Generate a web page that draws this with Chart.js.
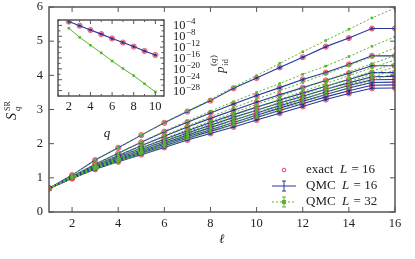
<!DOCTYPE html>
<html>
<head>
<meta charset="utf-8">
<script src="https://cdn.jsdelivr.net/npm/chart.js@4.4.0/dist/chart.umd.min.js"></script>
<style>
body { margin: 0; background: #fff; }
#caja { position: relative; width: 415px; height: 259px; }
#caja canvas { position: absolute; left: 0; top: 0; }
</style>
</head>
<body>
<div id="caja">
  <canvas id="principal" width="415" height="259"></canvas>
  <canvas id="recuadro" width="415" height="259"></canvas>
</div>
<script>
// subsistema l = 1..16
const ell = [1, 2, 3, 4, 5, 6, 7, 8, 9, 10, 11, 12, 13, 14, 15, 16];

// S_q^SR, L = 16 (exacto y QMC coinciden a ojo)
const sL16_q2 = [0.69, 1.08, 1.52, 1.88, 2.25, 2.61, 2.94, 3.26, 3.62, 3.92, 4.23, 4.53, 4.84, 5.09, 5.37, 5.37];
const sL16_q3 = [0.69, 1.04, 1.40, 1.72, 2.04, 2.35, 2.63, 2.90, 3.16, 3.41, 3.64, 3.88, 4.08, 4.32, 4.57, 4.57];
const sL16_q4 = [0.69, 1.03, 1.36, 1.65, 1.94, 2.22, 2.49, 2.74, 2.98, 3.21, 3.43, 3.64, 3.85, 4.06, 4.28, 4.28];
const sL16_q5 = [0.69, 1.02, 1.33, 1.61, 1.87, 2.13, 2.38, 2.62, 2.85, 3.07, 3.28, 3.48, 3.68, 3.88, 4.08, 4.08];
const sL16_q6 = [0.69, 1.01, 1.31, 1.57, 1.82, 2.07, 2.31, 2.54, 2.77, 2.98, 3.19, 3.39, 3.59, 3.78, 3.96, 3.97];
const sL16_q7 = [0.69, 1.00, 1.29, 1.54, 1.78, 2.02, 2.25, 2.47, 2.69, 2.90, 3.11, 3.31, 3.51, 3.70, 3.87, 3.88];
const sL16_q8 = [0.69, 0.99, 1.28, 1.52, 1.75, 1.98, 2.20, 2.41, 2.62, 2.83, 3.04, 3.24, 3.44, 3.63, 3.79, 3.80];
const sL16_q9 = [0.69, 0.99, 1.27, 1.50, 1.72, 1.94, 2.16, 2.36, 2.56, 2.77, 2.97, 3.17, 3.37, 3.55, 3.71, 3.72];
const sL16_q10 = [0.69, 0.98, 1.25, 1.47, 1.68, 1.89, 2.11, 2.30, 2.49, 2.69, 2.89, 3.09, 3.29, 3.47, 3.62, 3.63];

// S_q^SR, QMC L = 32
const sL32_q2 = [0.69, 1.08, 1.52, 1.88, 2.25, 2.62, 2.96, 3.29, 3.66, 3.99, 4.35, 4.69, 5.02, 5.35, 5.68, 5.97];
const sL32_q3 = [0.69, 1.04, 1.40, 1.72, 2.05, 2.37, 2.66, 2.95, 3.23, 3.50, 3.76, 4.03, 4.27, 4.55, 4.85, 5.13];
const sL32_q4 = [0.69, 1.03, 1.36, 1.65, 1.95, 2.24, 2.52, 2.79, 3.05, 3.30, 3.55, 3.79, 4.04, 4.29, 4.54, 4.80];
const sL32_q5 = [0.69, 1.02, 1.33, 1.61, 1.88, 2.15, 2.41, 2.66, 2.91, 3.15, 3.39, 3.62, 3.86, 4.10, 4.34, 4.58];
const sL32_q6 = [0.69, 1.01, 1.31, 1.57, 1.83, 2.09, 2.34, 2.58, 2.83, 3.06, 3.30, 3.53, 3.76, 3.99, 4.22, 4.45];
const sL32_q7 = [0.69, 1.00, 1.29, 1.54, 1.79, 2.04, 2.28, 2.51, 2.75, 2.98, 3.21, 3.44, 3.67, 3.90, 4.12, 4.35];
const sL32_q8 = [0.69, 0.99, 1.28, 1.52, 1.76, 2.00, 2.23, 2.45, 2.68, 2.91, 3.14, 3.36, 3.59, 3.81, 4.03, 4.25];
const sL32_q9 = [0.69, 0.99, 1.27, 1.50, 1.73, 1.96, 2.19, 2.40, 2.62, 2.85, 3.07, 3.29, 3.51, 3.73, 3.94, 4.16];
const sL32_q10 = [0.69, 0.98, 1.25, 1.47, 1.69, 1.91, 2.14, 2.34, 2.55, 2.77, 2.99, 3.21, 3.43, 3.64, 3.85, 4.06];

// recuadro: p_id^(q) frente a q
const qRec = [2, 3, 4, 5, 6, 7, 8, 9, 10];
const pidL16 = [2.7e-3, 7.9e-5, 2.0e-6, 6.3e-8, 1.6e-9, 5.0e-11, 1.6e-12, 4.0e-14, 1.3e-15];
const pidL32 = [9.5e-6, 4.2e-9, 5.0e-12, 7.9e-15, 7.9e-18, 1.3e-20, 3.2e-23, 3.2e-26, 3.2e-29];

// marcas de los ejes
const ticksEll = [2, 4, 6, 8, 10, 12, 14, 16];
const ticksS = [0, 1, 2, 3, 4, 5, 6];
const ticksQ = [2, 4, 6, 8, 10];
const ticksPid = [-4, -8, -12, -16, -20, -24, -28];

const azul = '#28369a';
const verde = '#58b52c';
const rojo = '#ec3d56';
const gris = '#555';
const serif = '"Liberation Serif", "DejaVu Serif", serif';

const curvasL16 = [sL16_q2, sL16_q3, sL16_q4, sL16_q5, sL16_q6, sL16_q7, sL16_q8, sL16_q9, sL16_q10];
const curvasL32 = [sL32_q2, sL32_q3, sL32_q4, sL32_q5, sL32_q6, sL32_q7, sL32_q8, sL32_q9, sL32_q10];

const puntos = (xs, ys) => ys.map((v, i) => ({ x: xs[i], y: v }));

function linea(ctx, x1, y1, x2, y2) {
    ctx.beginPath();
    ctx.moveTo(x1, y1);
    ctx.lineTo(x2, y2);
    ctx.stroke();
}

const ejeOculto = {
    display: true,
    ticks: { display: false },
    grid: { display: false },
    border: { display: false }
};

// ---------- grafica principal ----------
let datos = [];
curvasL16.forEach(serie => {
    datos.push({
        data: puntos(ell, serie), showLine: false, borderColor: rojo,
        backgroundColor: 'rgba(245,125,145,0.6)', pointRadius: 2.6, pointBorderWidth: 0.8, order: 3
    });
    datos.push({
        data: puntos(ell, serie), borderColor: azul, backgroundColor: azul,
        borderWidth: 1.1, pointRadius: 1.5, pointBorderWidth: 0, order: 2
    });
});
curvasL32.forEach(serie => {
    datos.push({
        data: puntos(ell, serie), borderColor: verde, backgroundColor: verde, borderWidth: 1,
        borderDash: [2, 2], pointStyle: 'rect', pointRadius: 1.8, pointBorderWidth: 0, order: 1
    });
});

const marcoPrincipal = {
    id: 'marcoPrincipal',
    afterDraw(chart) {
        const { ctx, chartArea: a, scales: { x, y } } = chart;
        ctx.save();
        ctx.strokeStyle = gris;
        ctx.lineWidth = 1.5;
        ctx.strokeRect(a.left, a.top, a.right - a.left, a.bottom - a.top);
        ctx.lineWidth = 1;
        ctx.fillStyle = '#222';
        ctx.font = '12.5px ' + serif;
        ctx.textAlign = 'center';
        ctx.textBaseline = 'middle';
        ticksEll.forEach(v => {
            const px = x.getPixelForValue(v);
            linea(ctx, px, a.bottom, px, a.bottom - 5);
            linea(ctx, px, a.top, px, a.top + 5);
            ctx.fillText(String(v), px, a.bottom + 12);
        });
        ctx.textAlign = 'right';
        ticksS.forEach(v => {
            const py = y.getPixelForValue(v);
            linea(ctx, a.left, py, a.left + 5, py);
            linea(ctx, a.right, py, a.right - 5, py);
            ctx.fillText(String(v), a.left - 6, py);
        });

        // titulo eje x
        ctx.textAlign = 'center';
        ctx.font = 'italic 13px "DejaVu Serif", serif';
        ctx.fillText('\u2113', (a.left + a.right) / 2, a.bottom + 28);

        // titulo eje y: S_q^SR
        ctx.save();
        ctx.translate(12, 110);
        ctx.rotate(-Math.PI / 2);
        ctx.textAlign = 'left';
        ctx.textBaseline = 'alphabetic';
        ctx.font = 'italic 14px ' + serif;
        ctx.fillText('S', -10, 4);
        ctx.font = 'italic 9px ' + serif;
        ctx.fillText('q', -1, 8);
        ctx.font = '8px ' + serif;
        ctx.fillText('SR', -1, -2);
        ctx.restore();

        // leyenda
        ctx.textAlign = 'left';
        ctx.textBaseline = 'middle';
        const filas = [
            { y: 170, txt: 'exact  ', num: ' = 16', tipo: 'exacto' },
            { y: 186, txt: 'QMC  ', num: ' = 16', tipo: 'L16' },
            { y: 202, txt: 'QMC  ', num: ' = 32', tipo: 'L32' }
        ];
        filas.forEach(f => {
            const cx = 284;
            if (f.tipo == 'exacto') {
                ctx.strokeStyle = rojo;
                ctx.lineWidth = 1;
                ctx.beginPath();
                ctx.arc(cx, f.y, 1.8, 0, Math.PI * 2);
                ctx.stroke();
            } else if (f.tipo == 'L16') {
                ctx.strokeStyle = azul;
                ctx.lineWidth = 1;
                linea(ctx, 272, f.y, 296, f.y);
                linea(ctx, cx, f.y - 5, cx, f.y + 5);
                linea(ctx, cx - 2, f.y - 5, cx + 2, f.y - 5);
                linea(ctx, cx - 2, f.y + 5, cx + 2, f.y + 5);
            } else {
                ctx.strokeStyle = verde;
                ctx.lineWidth = 1;
                ctx.setLineDash([2, 2]);
                linea(ctx, 272, f.y, 296, f.y);
                ctx.setLineDash([]);
                linea(ctx, cx, f.y - 5, cx, f.y + 5);
                linea(ctx, cx - 2, f.y - 5, cx + 2, f.y - 5);
                linea(ctx, cx - 2, f.y + 5, cx + 2, f.y + 5);
                ctx.fillStyle = verde;
                ctx.fillRect(cx - 2, f.y - 2, 4, 4);
            }
            ctx.fillStyle = '#222';
            let px = 306;
            ctx.font = '13px ' + serif;
            ctx.fillText(f.txt, px, f.y);
            px += ctx.measureText(f.txt).width;
            ctx.font = 'italic 13px ' + serif;
            ctx.fillText('L', px, f.y);
            px += ctx.measureText('L').width + 1;
            ctx.font = '13px ' + serif;
            ctx.fillText(f.num, px, f.y);
        });
        ctx.restore();
    }
};

new Chart(document.getElementById('principal'), {
    type: 'line',
    data: { datasets: datos },
    options: {
        responsive: false,
        animation: false,
        devicePixelRatio: 1,
        layout: { padding: { left: 41, top: 7, right: 20, bottom: 39 } },
        plugins: { legend: { display: false }, tooltip: { enabled: false } },
        scales: {
            x: { ...ejeOculto, type: 'linear', min: 1, max: 16 },
            y: { ...ejeOculto, type: 'linear', min: 0, max: 6 }
        }
    },
    plugins: [marcoPrincipal]
});

// ---------- recuadro ----------
const marcoRecuadro = {
    id: 'marcoRecuadro',
    beforeDraw(chart) {
        const { ctx, chartArea: a } = chart;
        ctx.save();
        ctx.fillStyle = '#fff';
        ctx.fillRect(a.left, a.top, a.right - a.left, a.bottom - a.top);
        ctx.restore();
    },
    afterDraw(chart) {
        const { ctx, chartArea: a, scales: { x, y } } = chart;
        ctx.save();
        ctx.strokeStyle = gris;
        ctx.lineWidth = 1.5;
        ctx.strokeRect(a.left, a.top, a.right - a.left, a.bottom - a.top);
        ctx.lineWidth = 1;
        for (let q = 1; q <= 10; q++) {
            const px = x.getPixelForValue(q);
            const largo = q % 2 == 0 ? 4 : 2;
            linea(ctx, px, a.bottom, px, a.bottom - largo);
            linea(ctx, px, a.top, px, a.top + largo);
        }
        for (let e = -30; e <= -2; e += 2) {
            const py = y.getPixelForValue(Math.pow(10, e));
            const largo = e % 4 == 0 ? 4 : 2.5;
            linea(ctx, a.left, py, a.left + largo, py);
            linea(ctx, a.right, py, a.right - largo, py);
        }
        ctx.fillStyle = '#222';
        ctx.font = '12.5px ' + serif;
        ctx.textAlign = 'center';
        ctx.textBaseline = 'middle';
        ticksQ.forEach(v => {
            ctx.fillText(String(v), x.getPixelForValue(v), a.bottom + 11);
        });
        ctx.textAlign = 'left';
        ctx.textBaseline = 'alphabetic';
        ticksPid.forEach(e => {
            const py = y.getPixelForValue(Math.pow(10, e));
            ctx.font = '12.5px ' + serif;
            ctx.fillText('10', a.right + 9, py + 4);
            ctx.font = '9px ' + serif;
            ctx.fillText('\u2212' + Math.abs(e), a.right + 22, py - 1);
        });

        // q
        ctx.textAlign = 'center';
        ctx.font = 'italic 13px ' + serif;
        ctx.fillText('q', 107, 137);

        // p_id^(q)
        ctx.save();
        ctx.translate(224, 63);
        ctx.rotate(-Math.PI / 2);
        ctx.textAlign = 'left';
        ctx.font = 'italic 13px ' + serif;
        ctx.fillText('p', -10, 0);
        ctx.font = '9px ' + serif;
        ctx.fillText('id', -3, 4);
        ctx.fillText('(', -3, -8);
        ctx.font = 'italic 9px ' + serif;
        ctx.fillText('q', 0, -8);
        ctx.font = '9px ' + serif;
        ctx.fillText(')', 5, -8);
        ctx.restore();
        ctx.restore();
    }
};

new Chart(document.getElementById('recuadro'), {
    type: 'line',
    data: {
        datasets: [
            {
                data: puntos(qRec, pidL16), showLine: false, borderColor: rojo,
                backgroundColor: 'rgba(245,125,145,0.6)', pointRadius: 2.6, pointBorderWidth: 0.8, order: 3
            },
            {
                data: puntos(qRec, pidL16), borderColor: azul, backgroundColor: azul,
                borderWidth: 1.1, pointRadius: 1.5, pointBorderWidth: 0, order: 2
            },
            {
                data: puntos(qRec, pidL32), borderColor: verde, backgroundColor: verde,
                borderWidth: 1, pointStyle: 'rect', pointRadius: 1.8, pointBorderWidth: 0, order: 1
            }
        ]
    },
    options: {
        responsive: false,
        animation: false,
        devicePixelRatio: 1,
        layout: { padding: { left: 50, top: 20, right: 251, bottom: 155 } },
        plugins: { legend: { display: false }, tooltip: { enabled: false } },
        scales: {
            x: { ...ejeOculto, type: 'linear', min: 1, max: 10.8 },
            y: { ...ejeOculto, type: 'logarithmic', min: 1e-30, max: 1e-2 }
        }
    },
    plugins: [marcoRecuadro]
});
</script>
</body>
</html>
